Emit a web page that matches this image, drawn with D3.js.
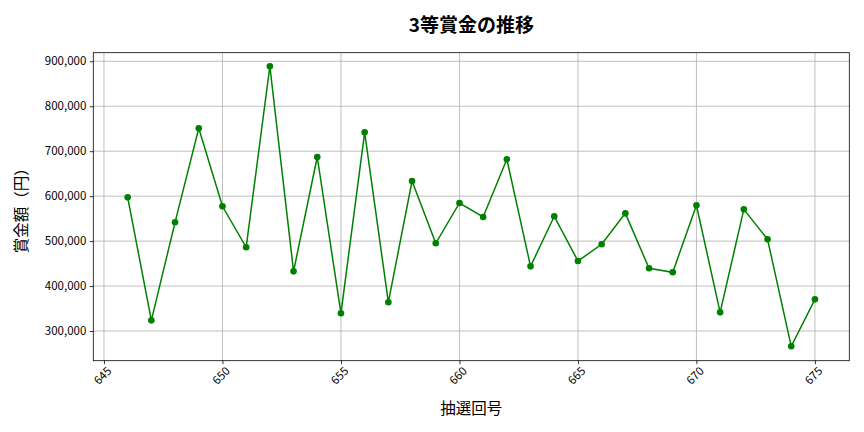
<!DOCTYPE html>
<html><head><meta charset="utf-8">
<script src="https://cdn.jsdelivr.net/npm/d3@7"></script>
<style>
body{margin:0;background:#fff;}
svg, svg text{font-family:"Noto Sans CJK JP","Noto Sans",sans-serif;}
</style></head>
<body><svg id="c" width="864" height="432"></svg>
<script>
const draws = [646,647,648,649,650,651,652,653,654,655,656,657,658,659,660,661,662,663,664,665,666,667,668,669,670,671,672,673,674,675];
const prizes = [597400,323800,541800,750900,577400,486200,888900,432800,687100,339400,742000,363900,633700,495100,584800,553600,682000,443900,555200,455700,492900,561800,439500,430600,579600,341600,570700,504000,266000,370500];
const xTicks = [645,650,655,660,665,670,675];
const yTicks = [300000,400000,500000,600000,700000,800000,900000];

const svg = d3.select("#c");
const L=93.3, R=849.3, T=52.7, B=360.7;
const x = d3.scaleLinear().domain([644.55,676.45]).range([L,R]);
const y = d3.scaleLinear().domain([234000,919100]).range([B,T]);

// grid
svg.append("g").selectAll("line").data(xTicks).join("line")
  .attr("x1",d=>x(d)).attr("x2",d=>x(d)).attr("y1",T).attr("y2",B)
  .attr("stroke","#b0b0b0").attr("stroke-width",0.8);
svg.append("g").selectAll("line").data(yTicks).join("line")
  .attr("x1",L).attr("x2",R).attr("y1",d=>y(d)).attr("y2",d=>y(d))
  .attr("stroke","#b0b0b0").attr("stroke-width",0.8);

// axes
const xa = svg.append("g").attr("transform",`translate(0,${B})`)
  .call(d3.axisBottom(x).tickValues(xTicks).tickSize(3.5).tickPadding(3).tickFormat(d3.format("d")));
xa.selectAll("text").attr("transform","rotate(-45)").attr("text-anchor","end")
  .attr("dx","-0.2em").attr("dy","0.6em");
const ya = svg.append("g").attr("transform",`translate(${L},0)`)
  .call(d3.axisLeft(y).tickValues(yTicks).tickSize(3.5).tickPadding(3.5).tickFormat(d3.format(",")));
[xa,ya].forEach(a=>{
  a.attr("font-family",null).attr("font-size",null);
  a.select(".domain").remove();
  a.selectAll("line").attr("stroke","#000").attr("stroke-width",0.8);
  a.selectAll("text").attr("font-size",11.5).attr("fill","#000");
});
svg.append("rect").attr("x",L).attr("y",T).attr("width",R-L).attr("height",B-T)
  .attr("fill","none").attr("stroke","#000").attr("stroke-width",0.8);

// line
const data = draws.map((d,i)=>({d,v:prizes[i]}));
svg.append("path").datum(data).attr("fill","none").attr("stroke","green").attr("stroke-width",1.5)
  .attr("d",d3.line().x(p=>x(p.d)).y(p=>y(p.v)));
svg.append("g").selectAll("circle").data(data).join("circle")
  .attr("cx",p=>x(p.d)).attr("cy",p=>y(p.v)).attr("r",3.3).attr("fill","green");

// labels
svg.append("text").attr("x",(L+R)/2).attr("y",32).attr("text-anchor","middle")
  .attr("font-size",19).attr("font-weight","bold").text("3等賞金の推移");
svg.append("text").attr("x",(L+R)/2).attr("y",414).attr("text-anchor","middle")
  .attr("font-size",15.5).text("抽選回号");
svg.append("text").attr("transform",`translate(27,${(T+B)/2}) rotate(-90)`).attr("text-anchor","middle")
  .attr("font-size",15.5).text("賞金額（円）");
</script></body></html>
